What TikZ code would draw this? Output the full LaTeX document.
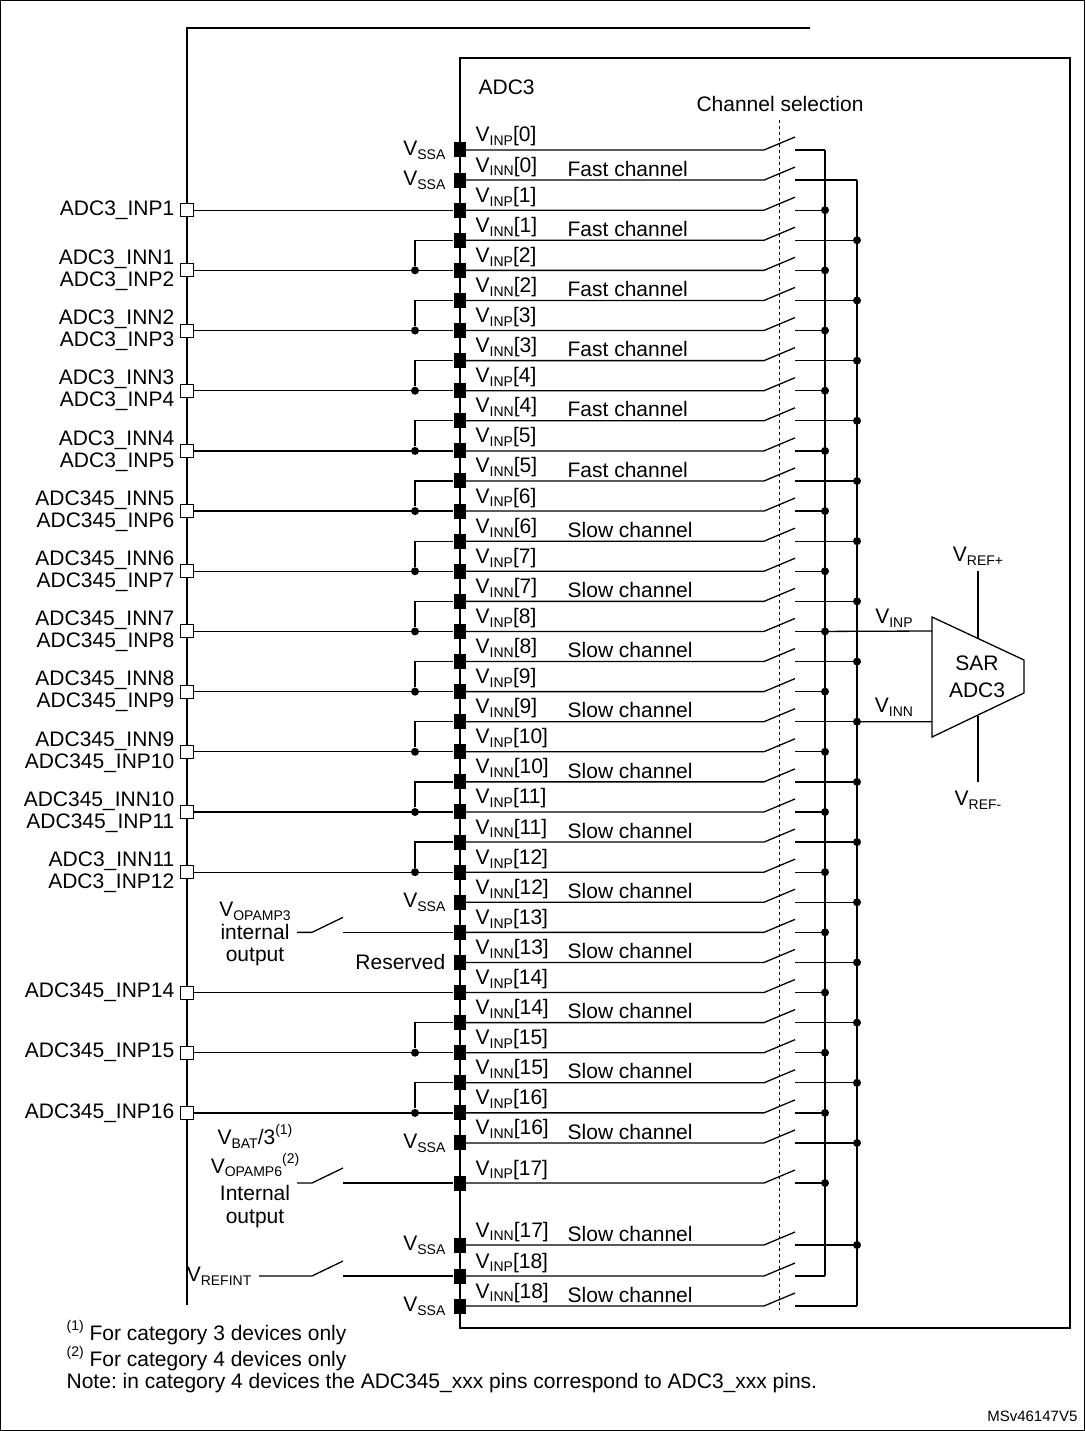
\documentclass[tikz,border=0pt]{standalone}
\usepackage{fontspec}
\setmainfont{Liberation Sans}
\usetikzlibrary{calc}
\frenchspacing
\newcommand\sub[1]{\raisebox{-0.35ex}{\fontsize{14}{14}\selectfont #1}}
\newcommand\sups[1]{\raisebox{0.9ex}{\fontsize{14}{14}\selectfont #1}}
\begin{document}
\begin{tikzpicture}[x=1pt,y=-1pt,line width=1.3pt,
  txt/.style={font=\fontsize{21}{25}\selectfont,inner sep=0pt},
  pin/.style={fill=black,minimum width=12pt,minimum height=15pt,inner sep=0pt},
  ext/.style={draw,fill=white,minimum size=13pt,inner sep=0pt,line width=1pt},
  dot/.style={fill=black,circle,minimum size=8pt,inner sep=0pt}]
\useasboundingbox (0,0) rectangle (1085,1431);
\draw[line width=1pt] (0.5,0.5) rectangle (1084.5,1430.5);
% rows
\foreach \k in {0,...,16}{
  \pgfmathsetmacro\yp{150+60.18*\k}
  \pgfmathsetmacro\yn{180.09+60.18*\k}
  \coordinate (P\k) at (460,\yp);
  \coordinate (N\k) at (460,\yn);
}
\coordinate (P17) at (460,1183);
\coordinate (N17) at (460,1245);
\coordinate (P18) at (460,1276);
\coordinate (N18) at (460,1306);
\coordinate (busP) at (825,0);
\coordinate (busN) at (857,0);
\coordinate (extx) at (187,0);
\coordinate (dotx) at (415,0);
% frames
\draw (810,28) -- (187,28) -- (187,1305);
\draw (460,58) rectangle (1070,1328);
\draw[dashed,line width=1pt] (779,120) -- (779,1310);
\node[txt,anchor=west] (adc) at (478,87) {ADC3};
\node[txt] (chs) at (780,104) {Channel selection};
% switches and outputs
\foreach \r/\b in {P/busP,N/busN}{
  \foreach \k in {0,...,18}{
    \draw (\r\k) -- ($(\r\k)+(304,0)$) -- ++(31,-13);
    \draw ($(\r\k)+(335,0)$) -- (\r\k -| \b);
  }
  \foreach \k in {1,...,17}{ \node[dot] at (\r\k -| \b) {}; }
}
\draw (P0 -| busP) -- (P18 -| busP);
\draw (N0 -| busN) -- (N18 -| busN);
% pins and labels
\foreach \k in {0,...,18}{
  \node[pin] (pp\k) at (P\k) {};
  \node[pin] (pn\k) at (N\k) {};
  \node[txt,anchor=south west] at ($(P\k)+(15,-3)$) {V\sub{INP}[\k]};
  \node[txt,anchor=south west] at ($(N\k)+(15,-3)$) {V\sub{INN}[\k]};
}
\foreach \k in {0,...,5}{\node[txt,anchor=south west] at ($(N\k)+(107,-3)$) {Fast channel};}
\foreach \k in {6,...,18}{\node[txt,anchor=south west] at ($(N\k)+(107,-3)$) {Slow channel};}
\foreach \c in {P0,N0,N12,N16,N17,N18}{\node[txt,anchor=east] at ($(\c)+(-14,0)$) {V\sub{SSA}};}
\node[txt,anchor=east] at ($(N13)+(-14,0)$) {Reserved};
% SAR
\draw (932,617) -- (1024,660) -- (1024,693) -- (932,737) -- cycle;
\node[txt,align=center] (sar) at (977,677) {SAR\\[2pt]ADC3};
\draw (P8 -| busP) -- (932,631) coordinate (sinp);
\draw (N9 -| busN) -- (932,721.7) coordinate (sinn);
\node[txt] at (894,618) {V\sub{INP}};
\node[txt] at (894,707) {V\sub{INN}};
\draw (978,571) -- (978,638);
\draw (978,716) -- (978,782);
\node[txt] at (978,556) {V\sub{REF+}};
\node[txt] at (978,800) {V\sub{REF-}};
% external pins
\node[ext] (e1) at (P1 -| extx) {};
\draw (e1) -- (pp1);
\node[txt,anchor=east] at ($(e1.west)+(-5,0)$) {ADC3\_INP1};
\foreach \k/\a/\b in {1/ADC3\_INN1/ADC3\_INP2,2/ADC3\_INN2/ADC3\_INP3,3/ADC3\_INN3/ADC3\_INP4,4/ADC3\_INN4/ADC3\_INP5,5/ADC345\_INN5/ADC345\_INP6,6/ADC345\_INN6/ADC345\_INP7,7/ADC345\_INN7/ADC345\_INP8,8/ADC345\_INN8/ADC345\_INP9,9/ADC345\_INN9/ADC345\_INP10,10/ADC345\_INN10/ADC345\_INP11,11/ADC3\_INN11/ADC3\_INP12}{
  \pgfmathtruncatemacro\n{\k+1}
  \node[ext] (ex\n) at (P\n -| extx) {};
  \draw (ex\n) -- (pp\n);
  \node[dot] (d\n) at (P\n -| dotx) {};
  \draw (d\n) |- (pn\k);
  \node[txt,anchor=east] at ($(ex\n.west)+(-5,-11)$) {\a};
  \node[txt,anchor=east] at ($(ex\n.west)+(-5,11)$) {\b};
}
\node[ext] (e14) at (P14 -| extx) {};
\draw (e14) -- (pp14);
\node[txt,anchor=east] at ($(e14.west)+(-5,0)$) {ADC345\_INP14};
\foreach \n/\m in {15/14,16/15}{
  \node[ext] (ex\n) at (P\n -| extx) {};
  \draw (ex\n) -- (pp\n);
  \node[dot] (d\n) at (P\n -| dotx) {};
  \draw (d\n) |- (pn\m);
  \node[txt,anchor=east] at ($(ex\n.west)+(-5,0)$) {ADC345\_INP\n};
}
% internal switched inputs
\foreach \c/\s in {13/110,17/110,18/72}{
  \draw ($(P\c -| extx)+(\s,0)$) -- ($(P\c -| extx)+(125,0)$) -- ++(31,-15);
  \draw ($(P\c -| extx)+(156,0)$) -- (pp\c);
}
\node[txt] at (255,911) {V\sub{OPAMP3}};
\node[txt] at (255,932) {internal};
\node[txt] at (255,957) {output};
\node[txt] at (255,1136) {V\sub{BAT}/3\sups{(1)}};
\node[txt] at (255,1165) {V\sub{OPAMP6}\sups{(2)}};
\node[txt] at (255,1193) {Internal};
\node[txt] at (255,1219) {output};
\node[txt,anchor=east] at (252,1276) {V\sub{REFINT}};
% notes
\node[txt,anchor=west] at (66,1333) {\sups{(1)} For category 3 devices only};
\node[txt,anchor=west] at (66,1359) {\sups{(2)} For category 4 devices only};
\node[txt,anchor=west] at (66,1383) {Note: in category 4 devices the ADC345\_xxx pins correspond to ADC3\_xxx pins.};
\node[txt,anchor=east,font=\fontsize{15}{15}\selectfont] at (1078,1416) {MSv46147V5};
\end{tikzpicture}
\end{document}
